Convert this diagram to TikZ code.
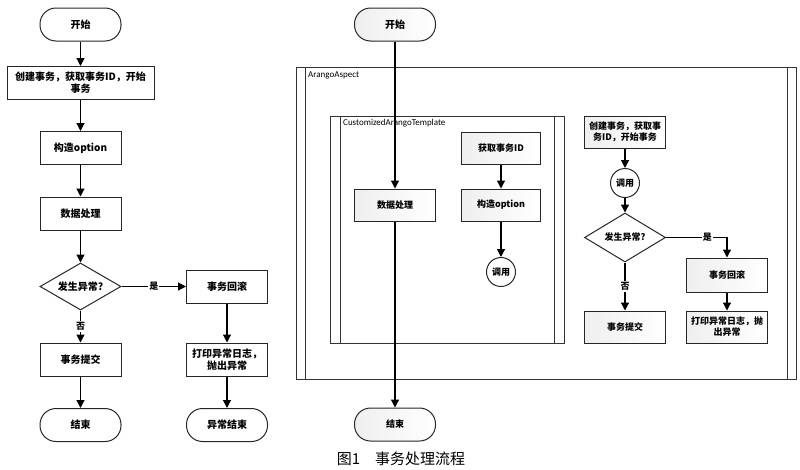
\documentclass[tikz,border=0pt]{standalone}
\usepackage{fontspec}
\setmainfont{Noto Sans CJK SC}
\newfontfamily\latinf{Carlito}
\usetikzlibrary{shapes.geometric,arrows.meta}
\begin{document}
\begin{tikzpicture}[x=1pt,y=-1pt,
  base/.style={draw=black!85, line width=1pt, font=\fontsize{10}{12}\selectfont\bfseries, align=center, inner sep=1pt},
  proc/.style={base, rectangle, minimum width=81pt, minimum height=33pt, fill=white},
  term/.style={proc, rounded corners=16pt},
  dec/.style={base, diamond, minimum width=81pt, minimum height=47pt, aspect=1.72, inner sep=0pt, fill=white},
  conn/.style={base, circle, minimum size=29pt, inner sep=0pt, fill=white},
  shade/.style={left color=gray!13, right color=white},
  small/.style={font=\fontsize{9}{11}\selectfont\bfseries},
  arr/.style={line width=1.2pt, -{Triangle[length=8pt,width=8pt]}},
  lab/.style={fill=white, inner sep=1pt, font=\fontsize{9}{10}\selectfont\bfseries},
  frame/.style={draw=black!80, line width=1pt},
  flabel/.style={anchor=west, inner sep=0pt, font=\latinf\fontsize{9}{10}\selectfont},
]
\useasboundingbox (0,0) rectangle (800,469);
% left flowchart
\node[term] (L0) at (80.5,24.5) {开始};
\node[proc, minimum width=147pt] (L1) at (80.5,83) {创建事务，获取事务ID，开始\\事务};
\node[proc] (L2) at (80.5,148) {构造option};
\node[proc] (L3) at (80.5,213.5) {数据处理};
\node[dec] (L4) at (80.5,286.5) {发生异常?};
\node[proc] (L5) at (80.5,359.5) {事务提交};
\node[term] (L6) at (80.5,425) {结束};
\node[proc] (L7) at (227,286.5) {事务回滚};
\node[proc] (L8) at (227,359.5) {打印异常日志，\\抛出异常};
\node[term] (L9) at (227,425) {异常结束};
\draw[arr] (L0) -- (L1);
\draw[arr] (L1) -- (L2);
\draw[arr] (L2) -- (L3);
\draw[arr] (L3) -- (L4);
\draw[arr] (L4) -- node[lab]{否} (L5);
\draw[arr] (L5) -- (L6);
\draw[arr] (L4) -- node[lab]{是} (L7);
\draw[arr] (L7) -- (L8);
\draw[arr] (L8) -- (L9);
% frames
\draw[frame] (296,67) rectangle (796,379);
\draw[frame] (305,67) -- (305,379);
\draw[frame] (787,67) -- (787,379);
\node[flabel] (AA) at (308,75) {ArangoAspect};
\draw[frame] (330,116) rectangle (564,343);
\draw[frame] (340,116) -- (340,343);
\draw[frame] (554,116) -- (554,343);
\node[flabel] (CT) at (343,123) {CustomizedArangoTemplate};
% middle
\node[term, shade] (M0) at (395,24.5) {开始};
\node[proc, shade, small, minimum height=32pt] (M1) at (395,205) {数据处理};
\node[term, shade, small] (M2) at (395,424.5) {结束};
\node[proc, shade, small, minimum width=79pt, minimum height=32pt] (M3) at (501,148) {获取事务ID};
\node[proc, shade, small, minimum width=79pt, minimum height=32pt] (M4) at (501,205) {构造option};
\node[conn, small] (M5) at (501,272) {调用};
\draw[arr] (M0) -- (M1);
\draw[arr] (M1) -- (M2);
\draw[arr] (M3) -- (M4);
\draw[arr] (M4) -- (M5);
% right
\node[proc, shade, small, minimum height=32pt] (R1) at (625,132) {创建事务，获取事\\务ID，开始事务};
\node[conn, small] (R2) at (625,183) {调用};
\node[dec, small, minimum height=49pt] (R3) at (625,237.5) {发生异常?};
\node[proc, shade, small, minimum height=34pt] (R4) at (727,275) {事务回滚};
\node[proc, shade, small, minimum height=32pt] (R5) at (727,327) {打印异常日志，抛\\出异常};
\node[proc, shade, small, minimum height=32pt] (R6) at (625,327) {事务提交};
\draw[arr] (R1) -- (R2);
\draw[arr] (R2) -- (R3);
\draw[arr] (R3) -- node[lab]{否} (R6);
\draw[arr] (R3.east) -| node[lab, pos=0.34]{是} (R4.north);
\draw[arr] (R4) -- (R5);
% caption
\node[font=\fontsize{15}{17}\selectfont] (cap) at (401,459) {图1\quad 事务处理流程};
\end{tikzpicture}
\end{document}
